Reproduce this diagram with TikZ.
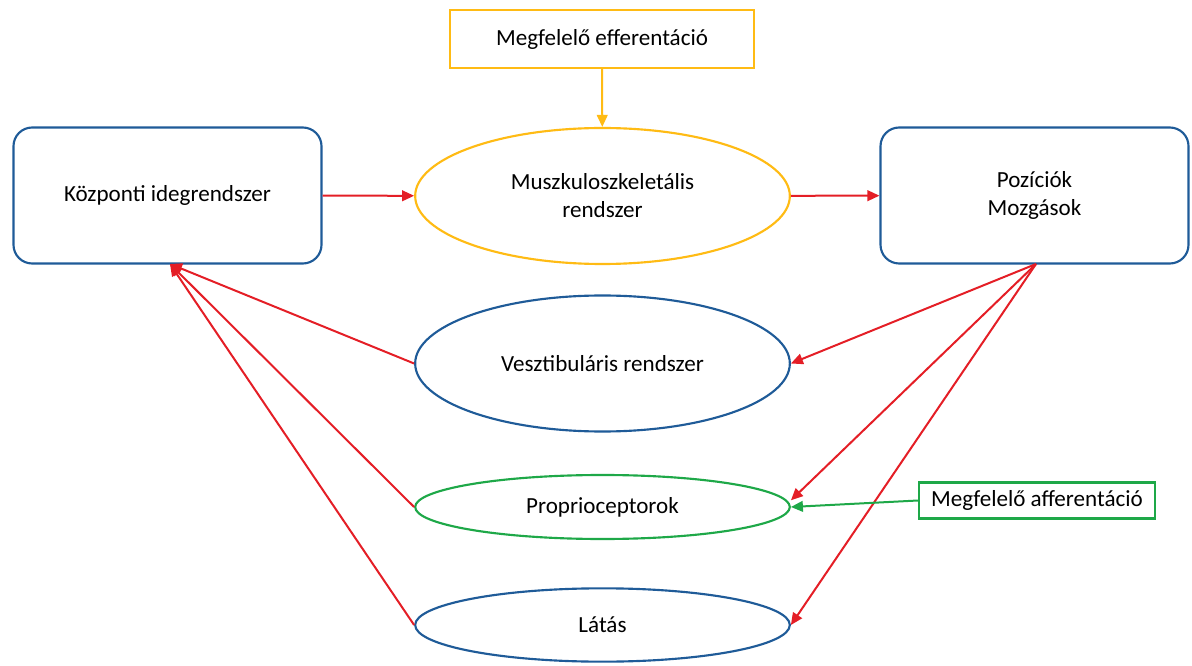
\documentclass[tikz,border=0pt]{standalone}
\usepackage{fontspec}
\setmainfont{Carlito}
\usepackage{xcolor}
\usetikzlibrary{shapes.geometric,arrows.meta}
\definecolor{kek}{RGB}{31,91,152}
\definecolor{narancs}{RGB}{255,187,20}
\definecolor{piros}{RGB}{228,30,38}
\definecolor{zold}{RGB}{30,168,72}

\begin{document}
\begin{tikzpicture}[x=0.75pt,y=-0.75pt,
    font=\fontsize{17.3}{21}\selectfont,
    doboz/.style={shape=rectangle, draw=kek, line width=1.6pt, rounded corners=14pt,
      minimum width=231pt, minimum height=102pt, align=center},
    tojas/.style={shape=ellipse, draw, line width=1.6pt, minimum width=281pt, align=center, inner sep=0pt},
    cimke/.style={shape=rectangle, draw, line width=1.6pt, align=center},
    nyil/.style={draw=piros, line width=1.5pt, -{Triangle[length=9pt,width=8pt]}}]
    \useasboundingbox (0,0) rectangle (1192,666);
    \node[cimke, draw=narancs, minimum width=228pt, minimum height=43pt] (eff) at (602,39) {Megfelelő efferentáció};
    \node[doboz] (kir) at (167.5,195.5) {Központi idegrendszer};
    \node[doboz] (poz) at (1034.5,195.5) {Pozíciók\\Mozgások};
    \node[tojas, draw=narancs, minimum height=102pt] (musz) at (602.5,196) {Muszkuloszkeletális\\rendszer};
    \node[tojas, draw=kek, minimum height=102pt] (vesz) at (602.5,363.5) {Vesztibuláris rendszer};
    \node[tojas, draw=zold, minimum height=48pt] (prop) at (602.5,507) {Proprioceptorok};
    \node[tojas, draw=kek, minimum height=55pt] (latas) at (602.5,625) {Látás};
    \node[cimke, draw=zold, minimum width=177pt, minimum height=27pt, inner sep=2pt] (aff) at (1037,500.5) {Megfelelő afferentáció};
    \coordinate (kirA) at (170,264);
    \coordinate (pozA) at (1036,264);
    % felso sor
    \draw[draw=narancs, line width=1.5pt, -{Triangle[length=9pt,width=8pt]}] (eff) -- (musz);
    \draw[nyil] (kir) -- (musz);
    \draw[nyil] (musz) -- (poz);
    % visszajelzes
    \draw[nyil] (pozA) -- (vesz.east);
    \draw[nyil] (pozA) -- ([yshift=5pt]prop.east);
    \draw[nyil] (pozA) -- (latas.east);
    \draw[nyil] (vesz.west) -- (kirA);
    \draw[nyil] (prop.west) -- (kirA);
    \draw[nyil] (latas.west) -- (kirA);
    \draw[draw=zold, line width=1.5pt, -{Triangle[length=9pt,width=8pt]}] (aff.west) -- (prop.east);
\end{tikzpicture}
\end{document}
